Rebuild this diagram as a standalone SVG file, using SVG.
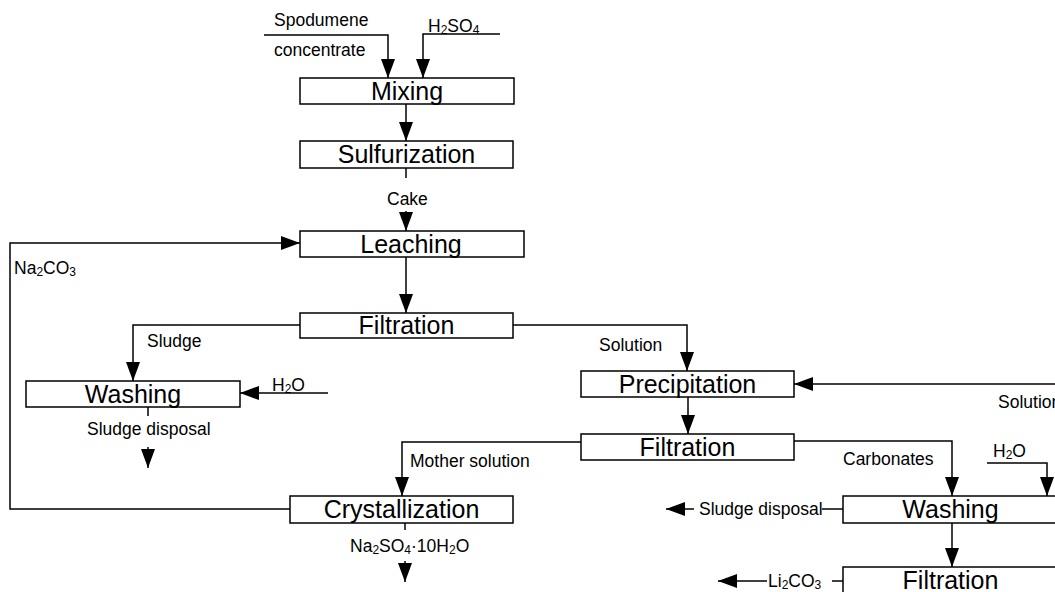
<svg xmlns="http://www.w3.org/2000/svg" width="1055" height="592" viewBox="0 0 1055 592">
<defs>
<marker id="arr" markerUnits="userSpaceOnUse" markerWidth="20" markerHeight="14" refX="19" refY="7" orient="auto">
<path d="M0,0 L19,7 L0,14 z" fill="#000"/>
</marker>
<style>
.box{fill:#fff;stroke:#000;stroke-width:1.5}
.bt{font-family:"Liberation Sans",Arial,sans-serif;font-size:25px;text-anchor:middle;fill:#000}
.lb{font-family:"Liberation Sans",Arial,sans-serif;font-size:17.5px;fill:#000}
.c{fill:none;stroke:#000;stroke-width:1.5}
.a{marker-end:url(#arr)}
.s{font-size:12px}
</style>
</defs>
<rect width="1055" height="592" fill="#fff"/>
<g id="connectors">
<path class="c a" d="M264,35 H388 V78"/>
<path class="c a" d="M500,34 H423 V78"/>
<path class="c a" d="M406,104 V141"/>
<path class="c" d="M406,168 V178"/>
<path class="c a" d="M406,211 V231"/>
<path class="c a" d="M406,257 V313"/>
<path class="c a" d="M290,509 H10 V243 H300"/>
<path class="c a" d="M300,325 H133 V381"/>
<path class="c a" d="M513,325 H687 V371"/>
<path class="c a" d="M328,393 H240"/>
<path class="c" d="M148,407 V416"/>
<path class="c a" d="M148,447 V468"/>
<path class="c a" d="M1056,384 H794"/>
<path class="c a" d="M688,397 V434"/>
<path class="c a" d="M581,442 H402 V496"/>
<path class="c a" d="M794,441 H952 V496"/>
<path class="c a" d="M987,463 H1047 V496"/>
<path class="c" d="M405,523 V530"/>
<path class="c a" d="M405,561 V582"/>
<path class="c" d="M843,509 H822"/>
<path class="c a" d="M694,509 H666"/>
<path class="c a" d="M952,523 V567"/>
<path class="c" d="M843,581 H832"/>
<path class="c a" d="M767,581 H718"/>
</g>
<g id="labels">
<text class="lb" x="274" y="26">Spodumene</text>
<text class="lb" x="274" y="56">concentrate</text>
<text class="lb" x="428" y="32">H<tspan class="s" dy="2">2</tspan><tspan dy="-2">SO</tspan><tspan class="s" dy="2">4</tspan></text>
<text class="lb" x="387" y="205">Cake</text>
<text class="lb" x="14" y="274">Na<tspan class="s" dy="2">2</tspan><tspan dy="-2">CO</tspan><tspan class="s" dy="2">3</tspan></text>
<text class="lb" x="147" y="347">Sludge</text>
<text class="lb" x="599" y="351">Solution</text>
<text class="lb" x="272" y="391">H<tspan class="s" dy="2">2</tspan><tspan dy="-2">O</tspan></text>
<text class="lb" x="87" y="435">Sludge disposal</text>
<text class="lb" x="998" y="408">Solution</text>
<text class="lb" x="993" y="457">H<tspan class="s" dy="2">2</tspan><tspan dy="-2">O</tspan></text>
<text class="lb" x="410" y="467">Mother solution</text>
<text class="lb" x="843" y="465">Carbonates</text>
<text class="lb" x="350" y="552">Na<tspan class="s" dy="2">2</tspan><tspan dy="-2">SO</tspan><tspan class="s" dy="2">4</tspan><tspan dy="-2">·10H</tspan><tspan class="s" dy="2">2</tspan><tspan dy="-2">O</tspan></text>
<text class="lb" x="699" y="515">Sludge disposal</text>
<text class="lb" x="768" y="587">Li<tspan class="s" dy="2">2</tspan><tspan dy="-2">CO</tspan><tspan class="s" dy="2">3</tspan></text>
</g>
<g id="mixing"><rect class="box" x="300" y="78" width="214" height="26"/><text class="bt" x="407" y="100">Mixing</text></g>
<g id="sulfurization"><rect class="box" x="300" y="141" width="213" height="27"/><text class="bt" x="406.5" y="163">Sulfurization</text></g>
<g id="leaching"><rect class="box" x="300" y="231" width="224" height="26"/><text class="bt" x="411" y="253">Leaching</text></g>
<g id="filtration1"><rect class="box" x="300" y="313" width="213" height="25"/><text class="bt" x="406.5" y="334">Filtration</text></g>
<g id="washing1"><rect class="box" x="26" y="381" width="214" height="26"/><text class="bt" x="133" y="403">Washing</text></g>
<g id="precipitation"><rect class="box" x="581" y="371" width="213" height="26"/><text class="bt" x="687.5" y="393">Precipitation</text></g>
<g id="filtration2"><rect class="box" x="581" y="434" width="213" height="26"/><text class="bt" x="687.5" y="456">Filtration</text></g>
<g id="crystallization"><rect class="box" x="290" y="496" width="223" height="27"/><text class="bt" x="401.5" y="518">Crystallization</text></g>
<g id="washing2"><rect class="box" x="843" y="496" width="215" height="27"/><text class="bt" x="950.5" y="518">Washing</text></g>
<g id="filtration3"><rect class="box" x="843" y="567" width="215" height="28"/><text class="bt" x="950.5" y="589">Filtration</text></g>
</svg>
